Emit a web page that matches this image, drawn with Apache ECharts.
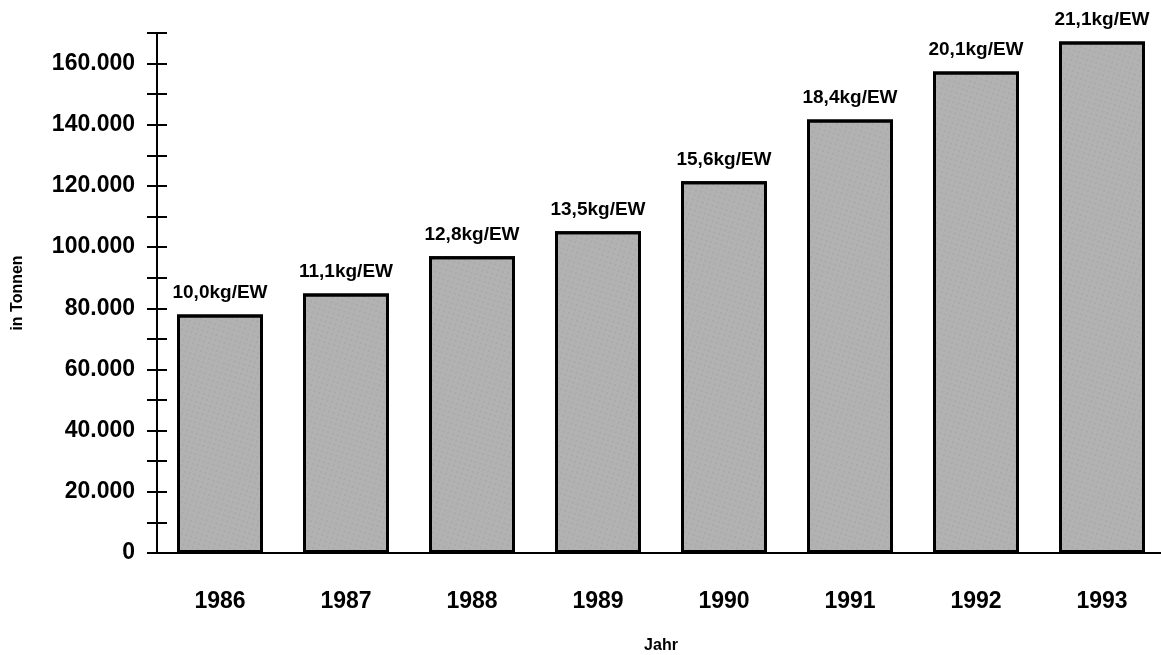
<!DOCTYPE html>
<html>
<head>
<meta charset="utf-8">
<script src="https://cdn.jsdelivr.net/npm/echarts@6/dist/echarts.min.js"></script>
<style>
html,body{margin:0;padding:0;background:#fff;}
#chart{width:1161px;height:655px;}
</style>
</head>
<body>
<div id="chart"></div>
<script>
const years = ['1986','1987','1988','1989','1990','1991','1992','1993'];
const tonnes = [78000, 84800, 97000, 105200, 121500, 141700, 157400, 167200];
const perCapita = ['10,0kg/EW','11,1kg/EW','12,8kg/EW','13,5kg/EW','15,6kg/EW','18,4kg/EW','20,1kg/EW','21,1kg/EW'];
const yMin = 0, yMax = 170000, yStep = 10000, yLabelStep = 20000;

const FONT = "'Liberation Sans', Arial, sans-serif";

function fmt(v){
  if (v % yLabelStep !== 0 || v > 160000) return '';
  return v === 0 ? '0' : String(v).replace(/\B(?=(\d{3})+(?!\d))/g, '.');
}

const chart = echarts.init(document.getElementById('chart'));
const yBase = {
  type: 'value', min: yMin, max: yMax, interval: yStep, position: 'left',
  splitLine: {show: false},
  axisLine: {show: true, lineStyle: {color: '#000', width: 2}}
};
chart.setOption({
  animation: false,
  backgroundColor: '#fff',
  grid: {left: 157, right: -4, top: 33, bottom: 102, containLabel: false, outerBoundsMode: 'none'},
  xAxis: {
    type: 'category', data: years,
    name: 'Jahr', nameLocation: 'middle', nameGap: 85,
    nameTextStyle: {fontFamily: FONT, fontSize: 16, fontWeight: 'bold', color: '#000'},
    axisLine: {lineStyle: {color: '#000', width: 2}},
    axisTick: {show: false},
    axisLabel: {margin: 37, fontFamily: FONT, fontSize: 23, fontWeight: 'bold', color: '#000'}
  },
  yAxis: [
    Object.assign({}, yBase, {
      name: 'in Tonnen', nameLocation: 'middle', nameGap: 131, nameRotate: 90,
      nameTextStyle: {fontFamily: FONT, fontSize: 16, fontWeight: 'bold', color: '#000'},
      axisTick: {show: true, length: 10, lineStyle: {color: '#000', width: 2}},
      axisLabel: {margin: 22, fontFamily: FONT, fontSize: 23, fontWeight: 'bold', color: '#000', formatter: fmt}
    }),
    Object.assign({}, yBase, {
      axisTick: {show: true, inside: true, length: 10, lineStyle: {color: '#000', width: 2}},
      axisLabel: {show: false}
    })
  ],
  series: [{
    type: 'bar', data: tonnes, yAxisIndex: 0, barWidth: 86,
    itemStyle: {
      color: '#b2b2b2', borderColor: '#000', borderWidth: 3,
      decal: {symbol: 'rect', symbolSize: 0.5, dashArrayX: [2, 3], dashArrayY: [2, 3], color: 'rgba(60,60,60,0.25)', rotation: 0.3}
    },
    label: {
      show: true, position: 'top', distance: 12,
      fontFamily: FONT, fontSize: 19, fontWeight: 'bold', color: '#000',
      formatter: p => perCapita[p.dataIndex]
    }
  }]
});
</script>
</body>
</html>
